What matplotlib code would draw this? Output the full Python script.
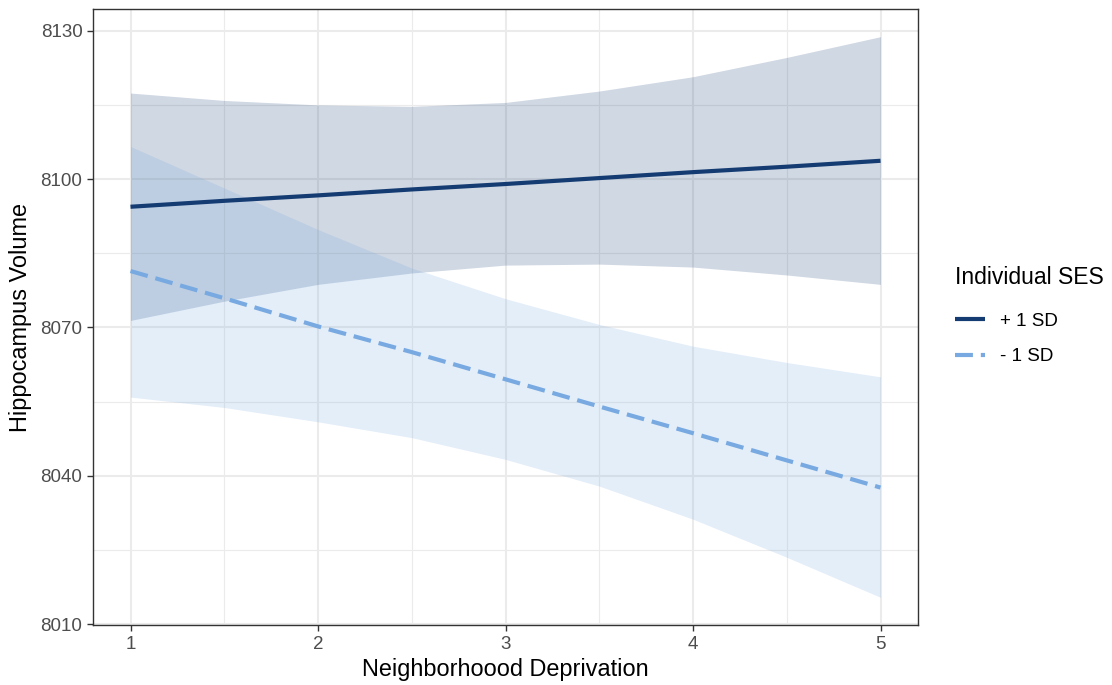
import numpy as np
import matplotlib.pyplot as plt
from matplotlib.ticker import MultipleLocator

plt.rcParams["font.family"] = ["Liberation Sans", "DejaVu Sans"]

# values
deprivation = [1, 1.5, 2, 2.5, 3, 3.5, 4, 4.5, 5]

high_fit = [8094.4, 8095.6, 8096.7, 8097.9, 8099.0, 8100.2, 8101.4, 8102.5, 8103.7]
high_lo = [8071.4, 8075.3, 8078.7, 8081.0, 8082.6, 8082.8, 8082.2, 8080.6, 8078.7]
high_hi = [8117.4, 8115.9, 8115.0, 8114.7, 8115.5, 8117.8, 8120.7, 8124.6, 8128.8]

low_fit = [8081.4, 8075.9, 8070.2, 8065.0, 8059.5, 8054.0, 8048.6, 8043.1, 8037.6]
low_lo = [8055.9, 8053.8, 8050.9, 8047.7, 8043.3, 8037.9, 8031.2, 8023.5, 8015.4]
low_hi = [8106.6, 8098.2, 8089.8, 8082.0, 8075.8, 8070.6, 8066.2, 8062.9, 8060.0]

y_ticks = [8010, 8040, 8070, 8100, 8130]
x_ticks = [1, 2, 3, 4, 5]

dark = "#143C73"
light = "#78AAE1"

fig = plt.figure(figsize=(11.12, 6.85), dpi=100)
ax = fig.add_axes([93 / 1112, 1 - 625 / 685, (918 - 93) / 1112, (625 - 9) / 685])

ax.fill_between(deprivation, high_lo, high_hi, color=dark, alpha=0.2, lw=0, zorder=2)
ax.fill_between(deprivation, low_lo, low_hi, color=light, alpha=0.2, lw=0, zorder=2)
ax.plot(deprivation, high_fit, color=dark, lw=3.0, solid_capstyle="butt",
        label="+ 1 SD", zorder=3)
ax.plot(deprivation, low_fit, color=light, lw=3.0, dashes=(4.3, 1.9),
        dash_capstyle="butt", label="- 1 SD", zorder=3)

ax.set_xlim(0.8, 5.2)
ax.set_ylim(8009.8, 8134.4)
ax.set_xticks(x_ticks)
ax.set_yticks(y_ticks)
ax.xaxis.set_minor_locator(MultipleLocator(0.5))
ax.yaxis.set_minor_locator(MultipleLocator(15))
ax.grid(which="major", color="#EBEBEB", lw=1.5, zorder=0)
ax.grid(which="minor", color="#EBEBEB", lw=0.8, zorder=0)
ax.set_axisbelow(True)

for s in ax.spines.values():
    s.set_color("#333333")
    s.set_linewidth(1.0)
ax.tick_params(which="major", length=4.2, width=1.0, color="#333333",
               labelsize=13.5, labelcolor="#4D4D4D", pad=3.4)
ax.tick_params(which="minor", length=0)

ax.set_xlabel("Neighborhoood Deprivation", fontsize=16.9, labelpad=4)
ax.set_ylabel("Hippocampus Volume", fontsize=16.9, labelpad=6)

leg = fig.legend(loc="upper left", bbox_to_anchor=(938 / 1112, 1 - 249 / 685),
                 title="Individual SES", fontsize=13.5, title_fontsize=16.5,
                 frameon=False, handlelength=1.6, handletextpad=0.8,
                 labelspacing=1.0, alignment="left")
# a bit more room between the title and the entries
leg._legend_box.sep = 17

fig.savefig("out.png", dpi=100)
